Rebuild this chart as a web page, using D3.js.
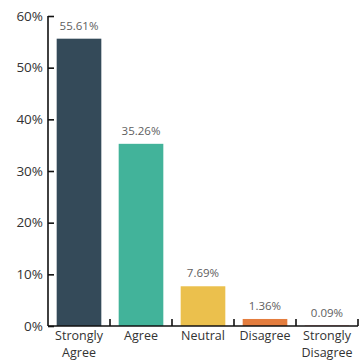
<!DOCTYPE html>
<html>
<head>
<meta charset="utf-8">
<script src="https://cdn.jsdelivr.net/npm/d3@7"></script>
<style>
  html, body { margin: 0; padding: 0; background: #fff; }
  svg { display: block; font-family: "Open Sans", Lato, sans-serif; }
</style>
</head>
<body>
<svg id="chart" width="360" height="360"></svg>
<script>
// Survey response shares
const categories = ["Strongly Agree", "Agree", "Neutral", "Disagree", "Strongly Disagree"];
const values = [55.61, 35.26, 7.69, 1.36, 0.09];
const colors = ["#344a59", "#42b39a", "#ebc04d", "#e47d3e", "#e8675a"];
const yTicks = [0, 10, 20, 30, 40, 50, 60];

const svg = d3.select("#chart");
const plotLeft = 48, plotRight = 358, plotTop = 16, plotBottom = 326;

const x = d3.scaleBand().domain(categories).range([plotLeft, plotRight]).padding(0);
const y = d3.scaleLinear().domain([0, 60]).range([plotBottom, plotTop]);
const inset = x.bandwidth() * 0.14;

// bars
svg.append("g").selectAll("rect")
  .data(categories)
  .join("rect")
  .attr("x", d => x(d) + inset)
  .attr("width", x.bandwidth() - 2 * inset)
  .attr("y", (d, i) => y(values[i]))
  .attr("height", (d, i) => Math.max(y(0) - y(values[i]), 0))
  .attr("fill", (d, i) => colors[i]);

// value labels
svg.append("g").selectAll("text")
  .data(categories)
  .join("text")
  .attr("x", d => x(d) + x.bandwidth() / 2)
  .attr("y", (d, i) => y(values[i]) - 9)
  .attr("text-anchor", "middle")
  .attr("font-size", 11.5)
  .attr("fill", "#606060")
  .text((d, i) => values[i].toFixed(2) + "%");

// y axis with inward ticks
const yAxis = svg.append("g")
  .attr("transform", `translate(${plotLeft},0)`)
  .call(d3.axisRight(y).tickValues(yTicks).tickSize(6).tickFormat(d => d + "%"));
yAxis.select(".domain").attr("stroke", "#111").attr("stroke-width", 1.6).attr("d", `M0,${plotTop}V${plotBottom}`);
yAxis.selectAll(".tick line").attr("stroke", "#111").attr("stroke-width", 1.6);
yAxis.selectAll(".tick text")
  .attr("x", -5).attr("text-anchor", "end")
  .attr("font-size", 13.5).attr("fill", "#333")
  .attr("font-family", "\"Open Sans\", Lato, sans-serif");

// x axis with ticks at band edges pointing up
const xAxis = svg.append("g").attr("transform", `translate(0,${plotBottom})`);
xAxis.append("line")
  .attr("x1", plotLeft).attr("x2", plotRight)
  .attr("stroke", "#111").attr("stroke-width", 1.6);
xAxis.selectAll("line.edge")
  .data(categories)
  .join("line")
  .attr("class", "edge")
  .attr("x1", d => x(d) + x.bandwidth()).attr("x2", d => x(d) + x.bandwidth())
  .attr("y1", 0).attr("y2", -7)
  .attr("stroke", "#111").attr("stroke-width", 1.6);

// category labels, one word per line
categories.forEach(d => {
  const cx = x(d) + x.bandwidth() / 2;
  d.split(" ").forEach((w, k) => {
    xAxis.append("text")
      .attr("x", cx).attr("y", 14 + k * 16.5)
      .attr("text-anchor", "middle")
      .attr("font-size", 12.5)
      .attr("fill", "#333")
      .text(w);
  });
});
</script>
</body>
</html>
